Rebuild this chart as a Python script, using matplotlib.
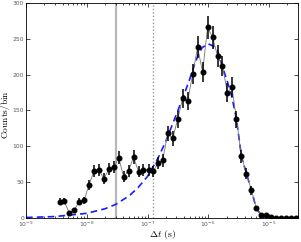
import numpy as np
import matplotlib
matplotlib.use("Agg")
import matplotlib.pyplot as plt
from matplotlib.ticker import LogLocator, NullFormatter

plt.rcParams['mathtext.fontset'] = 'cm'

# histogram bins (s) and counts per bin
t_bins = [3.61e-9, 4.25e-9, 5.13e-9, 6.19e-9, 7.48e-9, 9.03e-9, 1.09e-8, 1.32e-8,
          1.59e-8, 1.92e-8, 2.32e-8, 2.81e-8, 3.35e-8, 4.05e-8, 4.89e-8, 5.89e-8,
          7.11e-8, 8.59e-8, 1.04e-7, 1.25e-7, 1.48e-7, 1.78e-7, 2.15e-7, 2.60e-7,
          3.14e-7, 3.79e-7, 4.58e-7, 5.53e-7, 6.68e-7, 8.07e-7, 9.75e-7, 1.18e-6,
          1.42e-6, 1.71e-6, 2.07e-6, 2.45e-6, 2.91e-6, 3.52e-6, 4.25e-6, 5.13e-6,
          6.19e-6, 7.48e-6, 9.03e-6, 1.09e-5, 1.32e-5, 1.59e-5, 1.92e-5, 2.32e-5,
          2.81e-5]
counts = [22.8, 23.7, 7.4, 10.7, 22.7, 24.7, 46.5, 65.5, 66.5, 55, 68, 70.5, 84,
          57.5, 66, 85, 64.6, 67.5, 66.5, 65, 76.5, 80.5, 118, 111, 138, 167, 163,
          201, 238, 204, 266, 252, 226, 212, 175, 183, 138, 86, 62, 39, 13.5, 4.8,
          3.5, 1.4, 0.5, 0.3, 0.3, 0.2, 0.2]
errs = np.sqrt(counts)

# fitted curve
fit_t = [1e-9, 3e-9, 1e-8, 2e-8, 3e-8, 5e-8, 7e-8, 1e-7, 1.5e-7, 2e-7, 3e-7, 4e-7,
         5e-7, 6e-7, 7e-7, 8e-7, 1e-6, 1.2e-6, 1.42e-6, 1.71e-6, 2.07e-6, 2.45e-6,
         2.91e-6, 3.52e-6, 4.25e-6, 5.13e-6, 6.19e-6, 7.48e-6, 9e-6, 1.2e-5, 3e-5]
fit_counts = [0.7, 2.0, 6.5, 12.9, 19, 31, 42.5, 58, 84, 107, 145, 172, 195, 215,
              230, 238, 243, 240, 234, 211, 190, 169, 138, 86, 62, 39, 13, 4, 1,
              0.2, 0]

t_solid = 3e-8
t_dotted = 1.25e-7

fig = plt.figure(figsize=(3.01, 2.42), dpi=100)
ax = fig.add_axes([0.0864, 0.0992, 0.9036, 0.8884])

ax.axvline(t_solid, color='0.72', lw=1.6, zorder=1)
ax.axvline(t_dotted, color='0.6', lw=1.0, ls=(0, (1, 1.5)), zorder=1)

ax.plot(fit_t, fit_counts, color='#1a1aff', lw=1.2, ls=(0, (4, 2.5)), zorder=2)
ax.plot(t_bins, counts, color='0.45', lw=0.6, zorder=3)
ax.errorbar(t_bins, counts, yerr=errs, fmt='o', color='black', ms=3.3,
            elinewidth=1.1, capsize=0, zorder=4)

ax.set_xscale('log')
ax.set_xlim(1e-9, 3e-5)
ax.set_ylim(0, 300)
ax.set_yticks([0, 50, 100, 150, 200, 250, 300])
ax.xaxis.set_major_locator(LogLocator(base=10, numticks=10))
ax.xaxis.set_minor_locator(LogLocator(base=10, subs=np.arange(2, 10), numticks=20))
ax.xaxis.set_minor_formatter(NullFormatter())

ax.tick_params(which='both', direction='in', top=True, right=True,
               labelsize=4.3, labelcolor='0.35', width=0.5, pad=1.5)
ax.tick_params(which='major', length=3)
ax.tick_params(which='minor', length=1.5)
for s in ax.spines.values():
    s.set_linewidth(0.6)

ax.set_xlabel(r'$\Delta t\ \mathrm{(s)}$', fontsize=7)
ax.set_ylabel(r'$\mathrm{Counts/bin}$', fontsize=6.8)
ax.xaxis.set_label_coords(0.5, -0.045)
ax.yaxis.set_label_coords(-0.052, 0.48)

fig.savefig('out.png', dpi=100)
